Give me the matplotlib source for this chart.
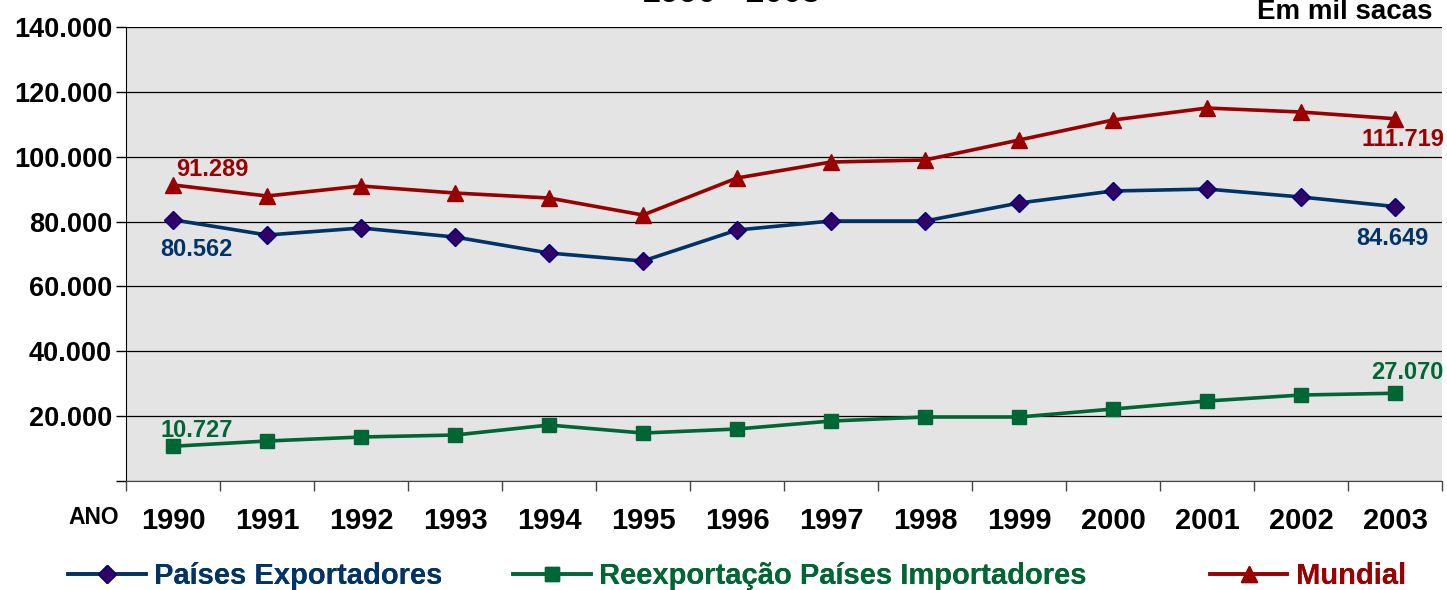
import matplotlib.pyplot as plt
from matplotlib.ticker import FuncFormatter, FixedLocator

plt.rcParams['font.family'] = ['Liberation Sans', 'DejaVu Sans']
plt.rcParams['font.weight'] = 'bold'

anos = ['1990', '1991', '1992', '1993', '1994', '1995', '1996',
        '1997', '1998', '1999', '2000', '2001', '2002', '2003']

exportadores = [80562, 75860, 78020, 75240, 70310, 67840, 77400,
                80180, 80180, 85730, 89430, 90040, 87580, 84649]
reexportacao = [10727, 12340, 13570, 14190, 17270, 14800, 16040,
                18500, 19740, 19740, 22200, 24670, 26520, 27070]
mundial = [91289, 87890, 90970, 88810, 87270, 82030, 93440,
           98370, 98990, 105150, 111320, 115020, 113790, 111719]

c_exp = '#003366'
c_reexp = '#006633'
c_mund = '#990000'

fig = plt.figure(figsize=(14.47, 5.9), dpi=100)
ax = fig.add_axes([0.0871, 0.1847, 0.9094, 0.7695])
ax.set_facecolor('#E4E4E4')

x = list(range(len(anos)))

l_exp, = ax.plot(x, exportadores, color=c_exp, lw=2.6, marker='D', ms=9.5,
                 mfc='#330066', mec='#000080', mew=1, label='Países Exportadores', zorder=4)
l_reexp, = ax.plot(x, reexportacao, color=c_reexp, lw=2.6, marker='s', ms=10,
                   mfc=c_reexp, mec=c_reexp, label='Reexportação Países Importadores', zorder=4)
l_mund, = ax.plot(x, mundial, color=c_mund, lw=2.6, marker='^', ms=11,
                  mfc=c_mund, mec=c_mund, label='Mundial', zorder=4)

ax.set_xlim(-0.5, len(anos) - 0.5)
ax.set_ylim(0, 140000)
ax.set_yticks(range(0, 140001, 20000))
ax.yaxis.set_major_formatter(FuncFormatter(
    lambda v, p: '' if v == 0 else f'{int(v):,}'.replace(',', '.')))
ax.grid(axis='y', color='black', lw=0.9, zorder=1)
ax.set_axisbelow(True)

ax.set_xticks(x)
ax.set_xticklabels(anos, fontsize=21, fontweight='bold')
ax.tick_params(axis='x', which='major', length=0, pad=19)
ax.xaxis.set_minor_locator(FixedLocator([i - 0.5 for i in range(len(anos) + 1)]))
ax.tick_params(axis='x', which='minor', length=7, width=1, color='#444444')
ax.tick_params(axis='y', labelsize=19.5, length=7, width=1, pad=3)
for lab in ax.get_yticklabels():
    lab.set_fontweight('bold')

ax.spines['right'].set_visible(False)
ax.spines['top'].set_visible(False)
ax.spines['left'].set_color('black')
ax.spines['bottom'].set_color('#444444')

# rótulos de dados nas pontas
lbl = dict(fontsize=17, fontweight='bold')
ax.annotate('91.289', (0, mundial[0]), xytext=(2, 3), textcoords='offset points',
            ha='left', va='bottom', color=c_mund, **lbl)
ax.annotate('80.562', (0, exportadores[0]), xytext=(-9, -13), textcoords='offset points',
            ha='left', va='top', color=c_exp, **lbl)
ax.annotate('10.727', (0, reexportacao[0]), xytext=(-9, 3), textcoords='offset points',
            ha='left', va='bottom', color=c_reexp, **lbl)
ax.annotate('111.719', (13, mundial[-1]), xytext=(-24, -7), textcoords='offset points',
            ha='left', va='top', color=c_mund, annotation_clip=False, **lbl)
ax.annotate('84.649', (13, exportadores[-1]), xytext=(-28, -15), textcoords='offset points',
            ha='left', va='top', color=c_exp, **lbl)
ax.annotate('27.070', (13, reexportacao[-1]), xytext=(-17, 7), textcoords='offset points',
            ha='left', va='bottom', color=c_reexp, annotation_clip=False, **lbl)

fig.text(0.505, 0.984, '1990 - 2003', ha='center', va='bottom', fontsize=24, fontweight='bold')
fig.text(0.99, 0.98, 'Em mil sacas', ha='right', va='center', fontsize=20, fontweight='bold')
fig.text(0.0475, 0.123, 'ANO', ha='left', va='center', fontsize=16.5, fontweight='bold')

# legenda em três blocos
leg_pos = [(0.029, l_exp, c_exp), (0.3366, l_reexp, c_reexp), (0.818, l_mund, c_mund)]
for xpos, h, c in leg_pos:
    lg = fig.legend(handles=[h], loc='center left', bbox_to_anchor=(xpos, 0.024),
                    frameon=False, handlelength=2.65, handletextpad=0.3,
                    labelcolor=c, prop={'weight': 'bold', 'size': 21})
    fig.add_artist(lg)

fig.savefig('out.png', dpi=100)
